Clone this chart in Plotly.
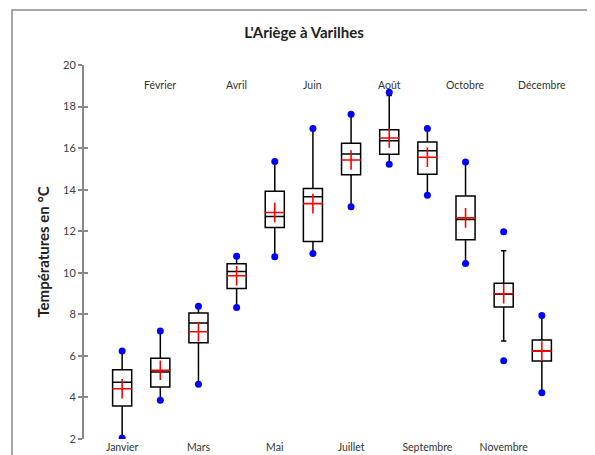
import plotly.graph_objects as go

months = ["Janvier", "Février", "Mars", "Avril", "Mai", "Juin", "Juillet",
          "Août", "Septembre", "Octobre", "Novembre", "Décembre"]
mins = [2.05, 3.87, 4.64, 8.33, 10.77, 10.93, 13.18, 15.22, 13.73, 10.45, 5.77, 4.23]
q1s = [3.59, 4.50, 6.63, 9.24, 12.18, 11.51, 14.72, 15.70, 14.74, 11.59, 8.35, 5.76]
medians = [4.73, 5.23, 7.58, 10.06, 12.71, 13.66, 15.72, 16.36, 15.87, 12.57, 8.97, 6.23]
q3s = [5.33, 5.89, 8.06, 10.43, 13.92, 14.06, 16.23, 16.88, 16.30, 13.70, 9.50, 6.76]
maxs = [6.24, 7.20, 8.39, 10.79, 15.35, 16.94, 17.63, 18.69, 16.94, 15.33, 11.98, 7.94]
whisker_low = [2.05, 3.87, 4.64, 8.33, 10.77, 10.93, 13.18, 15.22, 13.73, 10.45, 6.72, 4.23]
whisker_high = [6.24, 7.20, 8.39, 10.79, 15.35, 16.94, 17.63, 18.53, 16.94, 15.33, 11.06, 7.94]
means = [4.42, 5.31, 7.16, 9.86, 12.90, 13.33, 15.43, 16.49, 15.56, 12.64, 8.99, 6.23]
capped = [7, 10]
y_ticks = [2, 4, 6, 8, 10, 12, 14, 16, 18, 20]

pos = list(range(1, len(months) + 1))
FONT = "Lato"
fig = go.Figure()

def add_box(idx, ww):
    fig.add_trace(go.Box(
        x=[pos[i] for i in idx],
        q1=[q1s[i] for i in idx], median=[medians[i] for i in idx],
        q3=[q3s[i] for i in idx],
        lowerfence=[whisker_low[i] for i in idx],
        upperfence=[whisker_high[i] for i in idx],
        width=0.5, whiskerwidth=ww, boxpoints=False,
        fillcolor="white", line=dict(color="black", width=1.5),
        showlegend=False, hoverinfo="skip"))

add_box([i for i in range(12) if i not in capped], 0)
add_box(capped, 0.28)

fig.add_trace(go.Scatter(x=pos + pos, y=mins + maxs, mode="markers",
                         marker=dict(color="#0000FF", size=7),
                         showlegend=False, hoverinfo="skip"))
fig.add_trace(go.Scatter(x=pos, y=means, mode="markers",
                         marker=dict(symbol="cross-thin", size=14,
                                     line=dict(color="#FF0000", width=1.6)),
                         showlegend=False, hoverinfo="skip"))

for i in range(1, 12, 2):
    fig.add_annotation(x=pos[i], y=19.05, xref="x", yref="y", text=months[i],
                       showarrow=False, font=dict(family=FONT, size=10.5, color="#333333"))

fig.add_trace(go.Scatter(x=[None], y=[None], yaxis="y2", showlegend=False))

fig.update_layout(
    width=595, height=455,
    margin=dict(l=76, r=23, t=57, b=24),
    paper_bgcolor="white", plot_bgcolor="white",
    font=dict(family=FONT, size=11, color="#404040"),
    title=dict(text="<b>L'Ariège à Varilhes</b>", x=(304 - 8) / 595, xanchor="center",
               y=1 - 25 / 455, yanchor="middle",
               font=dict(family=FONT, size=15, color="#222222")),
    xaxis=dict(range=[0, 13], tickvals=pos[0::2], ticktext=months[0::2],
               showgrid=False, zeroline=False, showline=False, ticks="",
               tickfont=dict(family=FONT, size=10.5, color="#333333"),
               ticklabelstandoff=0, automargin=False),
    yaxis=dict(range=[2, 20], tickvals=y_ticks, showgrid=False, zeroline=False,
               showline=True, linecolor="#888888", linewidth=2,
               ticks="outside", ticklen=4, tickcolor="#888888", tickwidth=1.5,
               tickfont=dict(family=FONT, size=11, color="#404040"),
               title=dict(text="<b>Températures en °C</b>", standoff=10,
                          font=dict(family=FONT, size=15, color="#222222")),
               automargin=False),
    yaxis2=dict(range=[2, 20], tickvals=y_ticks, overlaying="y", side="left",
                showgrid=False, zeroline=False, showline=False,
                ticks="inside", ticklen=4, tickcolor="#888888", tickwidth=1.5,
                showticklabels=False, automargin=False),
    shapes=[dict(type="rect", xref="paper", yref="paper",
                 x0=(4 - 76) / 496, x1=1.2, y0=-0.2, y1=(431 - 2) / 374,
                 line=dict(color="#8a8a8a", width=1.5), fillcolor="rgba(0,0,0,0)",
                 layer="below")],
)

fig.write_html("out.html")
